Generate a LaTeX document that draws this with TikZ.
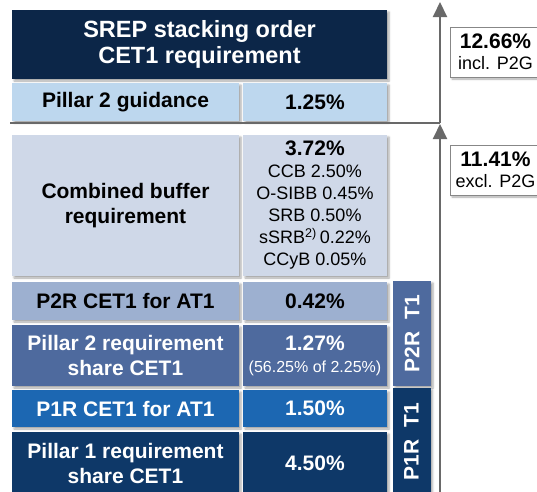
\documentclass[tikz,border=0pt]{standalone}
\usepackage{fontspec}
\setmainfont{Liberation Sans}
\usepackage{xcolor}
\usetikzlibrary{arrows.meta,shadows.blur}

\definecolor{navy}{RGB}{12,38,72}
\definecolor{celeste}{RGB}{189,215,238}
\definecolor{grigioblu}{RGB}{207,216,232}
\definecolor{azzurro}{RGB}{157,176,208}
\definecolor{bluP2}{RGB}{78,106,158}
\definecolor{bluP1}{RGB}{28,103,178}
\definecolor{scuroP1}{RGB}{14,56,104}
\definecolor{linee}{RGB}{105,105,105}

\begin{document}
\begin{tikzpicture}[x=1pt, y=-1pt,
    cella/.style={rectangle, inner sep=0pt, align=center,
        font=\fontsize{21}{25}\selectfont\bfseries,
        blur shadow={shadow xshift=2pt, shadow yshift=-2pt,
            shadow blur radius=2pt, shadow opacity=35}},
    sx/.style={cella, minimum width=227pt},
    dx/.style={cella, minimum width=144pt},
    barra/.style={cella, text=white, minimum width=38pt},
    etichetta/.style={rectangle, draw=linee!80, line width=0.8pt, fill=white,
        minimum width=91pt, minimum height=50pt, align=center, inner xsep=0pt,
        font=\fontsize{18}{21}\selectfont,
        blur shadow={shadow xshift=2pt, shadow yshift=-2pt,
            shadow blur radius=2pt, shadow opacity=35}},
    freccia/.style={draw=linee, line width=2pt,
        -{Triangle[length=15pt, width=14pt]}}]

    \useasboundingbox (0,0) rectangle (537,491);

    % Intestazione
    \node[cella, fill=navy, text=white, minimum width=375pt, minimum height=69pt,
        font=\fontsize{23.5}{26}\selectfont\bfseries] (testa) at (199.5,44.5)
        {SREP stacking order\\CET1 requirement};

    % Pillar 2 guidance
    \node[sx, fill=celeste, minimum height=38pt] (p2g) at (125.5,102) {Pillar 2 guidance};
    \node[dx, fill=celeste, minimum height=38pt] (p2gval) at (315,102) {1.25\%};

    % Combined buffer
    \node[sx, fill=grigioblu, minimum height=141pt] (cbr) at (125.5,205.5)
        {Combined buffer\\requirement};
    \node[dx, fill=grigioblu, minimum height=141pt,
        font=\fontsize{18}{22}\selectfont] (cbrval) at (315,205.5)
        {{\fontsize{21}{22}\selectfont\bfseries 3.72\%}\\
         CCB 2.50\%\\O-SIBB 0.45\%\\SRB 0.50\%\\
         sSRB\textsuperscript{2)}\,0.22\%\\CCyB 0.05\%};

    % P2R
    \node[sx, fill=azzurro, minimum height=38pt] (p2rat) at (125.5,301) {P2R CET1 for AT1};
    \node[dx, fill=azzurro, minimum height=38pt] (p2ratval) at (315,301) {0.42\%};
    \node[sx, fill=bluP2, text=white, minimum height=61pt] (p2rsh) at (125.5,355.5)
        {Pillar 2 requirement\\share CET1};
    \node[dx, fill=bluP2, text=white, minimum height=61pt] (p2rshval) at (315,355.5)
        {1.27\%\\[-3pt]{\fontsize{16}{18}\selectfont\mdseries (56.25\% of 2.25\%)}};

    % P1R
    \node[sx, fill=bluP1, text=white, minimum height=37pt] (p1rat) at (125.5,408.5) {P1R CET1 for AT1};
    \node[dx, fill=bluP1, text=white, minimum height=37pt] (p1ratval) at (315,408.5) {1.50\%};
    \node[sx, fill=scuroP1, text=white, minimum height=63pt] (p1rsh) at (125.5,463.5)
        {Pillar 1 requirement\\share CET1};
    \node[dx, fill=scuroP1, text=white, minimum height=63pt] (p1rshval) at (315,463.5) {4.50\%};

    % Barre laterali T1
    \node[barra, fill=bluP2, minimum height=105pt] (barp2r) at (412,333.5)
        {\rotatebox{90}{P2R\ \ T1}};
    \node[barra, fill=scuroP1, minimum height=107pt] (barp1r) at (411.5,441.5)
        {\rotatebox{90}{P1R\ \ T1}};

    % Linea di separazione e frecce
    \coordinate (inizio) at (10,123);
    \coordinate (sep) at (440,123);
    \coordinate (cimaA) at (440,2);
    \coordinate (fondo) at (440,495);
    \coordinate (cimaB) at (440,124);
    \draw[linee, line width=2pt] (inizio) -- (sep);
    \draw[freccia] (sep) -- (cimaA);
    \draw[freccia] (fondo) -- (cimaB);

    % Etichette totali
    \node[etichetta] (incl) at (495.5,52)
        {{\fontsize{21}{21}\selectfont\bfseries 12.66\%}\\incl. P2G};
    \node[etichetta] (excl) at (495.5,170)
        {{\fontsize{21}{21}\selectfont\bfseries 11.41\%}\\excl. P2G};
\end{tikzpicture}
\end{document}
